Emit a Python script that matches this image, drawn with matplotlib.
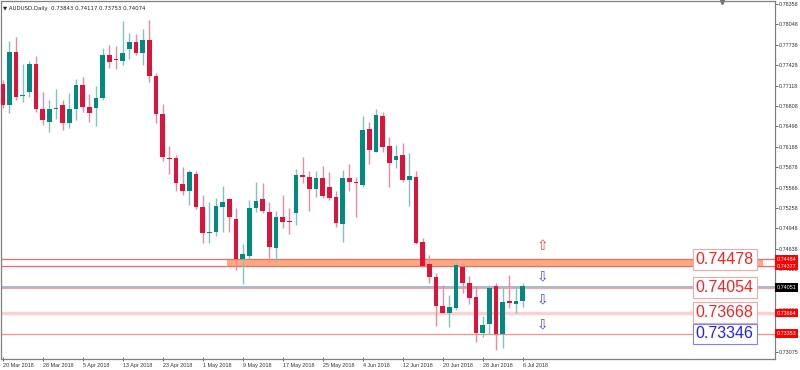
import matplotlib.pyplot as plt
import matplotlib.transforms as mtransforms
from matplotlib.patches import Rectangle

plt.rcParams['font.family'] = ['Liberation Sans', 'DejaVu Sans']

# AUDUSD daily bars, 20 Mar 2018 .. 6 Jul 2018
opens = [0.77143, 0.76824, 0.77629, 0.76958, 0.77021, 0.77447, 0.76763, 0.76566, 0.76759, 0.76824,
         0.76550, 0.76763, 0.77128, 0.76793, 0.76778, 0.76930, 0.77583, 0.77523, 0.77497, 0.77675,
         0.77777, 0.77609, 0.77816, 0.77264, 0.76683, 0.76023, 0.76013, 0.75619, 0.75518, 0.75771,
         0.75279, 0.74875, 0.74890, 0.75270, 0.75391, 0.75097, 0.74485, 0.74535, 0.75255, 0.75391,
         0.75203, 0.74656, 0.75123, 0.75062, 0.75188, 0.75756, 0.75726, 0.75548, 0.75720, 0.75574,
         0.75422, 0.75016, 0.75715, 0.75659, 0.75609, 0.76455, 0.76115, 0.76657, 0.76201, 0.75984,
         0.76064, 0.75685, 0.75730, 0.74738, 0.74409, 0.74207, 0.73771, 0.73669, 0.73736, 0.74359,
         0.74125, 0.73912, 0.73365, 0.73493, 0.74079, 0.73345, 0.73842, 0.73796, 0.73843]
highs = [0.77204, 0.77796, 0.77857, 0.77447, 0.77492, 0.77568, 0.77021, 0.76900, 0.77067, 0.76900,
         0.77006, 0.77219, 0.77249, 0.76991, 0.77112, 0.77690, 0.77735, 0.77720, 0.78100, 0.77918,
         0.77902, 0.77978, 0.78115, 0.77315, 0.76834, 0.76201, 0.76064, 0.75887, 0.75837, 0.75821,
         0.75457, 0.75346, 0.75407, 0.75594, 0.75415, 0.75255, 0.74712, 0.75381, 0.75650, 0.75634,
         0.75346, 0.75214, 0.75457, 0.75255, 0.75847, 0.76038, 0.75821, 0.75821, 0.75897, 0.75806,
         0.75518, 0.75837, 0.75928, 0.75726, 0.76657, 0.76561, 0.76763, 0.76718, 0.76342, 0.76216,
         0.76242, 0.76099, 0.75826, 0.74808, 0.74545, 0.74267, 0.74090, 0.73938, 0.74435, 0.74420,
         0.74231, 0.74074, 0.73619, 0.74090, 0.74115, 0.74040, 0.74242, 0.74079, 0.74117]
lows = [0.76778, 0.76702, 0.76900, 0.76869, 0.76945, 0.76718, 0.76520, 0.76414, 0.76611, 0.76444,
        0.76475, 0.76596, 0.76718, 0.76566, 0.76505, 0.76900, 0.77386, 0.77371, 0.77431, 0.77523,
        0.77583, 0.77431, 0.77178, 0.76546, 0.75978, 0.75771, 0.75518, 0.75457, 0.75305, 0.75240,
        0.74723, 0.74732, 0.74834, 0.74899, 0.74899, 0.74318, 0.74105, 0.74480, 0.75203, 0.75179,
        0.74444, 0.74444, 0.74951, 0.74860, 0.75001, 0.75644, 0.75218, 0.75422, 0.75415, 0.75381,
        0.74975, 0.74747, 0.75518, 0.75127, 0.75583, 0.75928, 0.76105, 0.76115, 0.75583, 0.75862,
        0.75659, 0.75290, 0.74712, 0.74368, 0.74125, 0.73467, 0.73660, 0.73447, 0.73710, 0.73963,
        0.73801, 0.73228, 0.73296, 0.73345, 0.73102, 0.73128, 0.73736, 0.73660, 0.73753]
closes = [0.76824, 0.77629, 0.76945, 0.76958, 0.77447, 0.76763, 0.76596, 0.76763, 0.76778, 0.76550,
          0.76763, 0.77128, 0.76793, 0.76702, 0.76930, 0.77583, 0.77477, 0.77500, 0.77621, 0.77781,
          0.77609, 0.77811, 0.77269, 0.76683, 0.76038, 0.76004, 0.75634, 0.75522, 0.75802, 0.75270,
          0.74875, 0.74890, 0.75290, 0.75346, 0.75118, 0.74485, 0.74556, 0.75264, 0.75366, 0.75214,
          0.74662, 0.75118, 0.75051, 0.75042, 0.75761, 0.75726, 0.75548, 0.75715, 0.75437, 0.75415,
          0.75027, 0.75710, 0.75654, 0.75639, 0.76444, 0.76140, 0.76672, 0.76190, 0.75938, 0.76054,
          0.75685, 0.75750, 0.74732, 0.74383, 0.74216, 0.73775, 0.73669, 0.73751, 0.74393, 0.74125,
          0.73897, 0.73365, 0.73482, 0.74049, 0.73345, 0.73836, 0.73812, 0.73847, 0.74074]

date_labels = ['20 Mar 2018', '28 Mar 2018', '5 Apr 2018', '13 Apr 2018', '23 Apr 2018',
               '1 May 2018', '9 May 2018', '17 May 2018', '25 May 2018', '4 Jun 2018',
               '12 Jun 2018', '20 Jun 2018', '28 Jun 2018', '6 Jul 2018']
date_step = 6

price_ticks = [0.78358, 0.78048, 0.77738, 0.77428, 0.77118, 0.76808, 0.76498, 0.76188, 0.75878,
               0.75566, 0.75258, 0.74948, 0.74638, 0.74328, 0.74018, 0.73708, 0.73398, 0.73075]

# levels drawn on the chart
zone_low, zone_high = 0.74377, 0.74484
zone_start_bar, zone_end_bar = 33.6, 114.0
level_texts = ['0.74478', '0.74054', '0.73668', '0.73346']
level_prices = [0.74478, 0.74054, 0.73668, 0.73346]
level_colors = ['#ff2020', '#ff2020', '#ff2020', '#2020ff']
axis_tags = ['0.74484', '0.74377', '0.74051', '0.73664', '0.73353']
axis_tag_prices = [0.74484, 0.74377, 0.74051, 0.73664, 0.73353]
axis_tag_colors = ['#ff0000', '#ff0000', '#000000', '#ff0000', '#ff0000']
arrow_prices = [0.74682, 0.74216, 0.73873, 0.73493]
arrow_glyphs = ['\u21e7', '\u21e9', '\u21e9', '\u21e9']
arrow_colors = ['#ff4040', '#4848ff', '#4848ff', '#4848ff']
arrow_bar = 81.0
label_bar = 108.3

fig = plt.figure(figsize=(8, 3.7), dpi=100)
ax = fig.add_axes([1 / 800, 11 / 370, 774 / 800, 358 / 370])

bull, bear = '#008a80', '#dc143c'
bull_w, bear_w = '#80c4bf', '#ef8aa0'
for i in range(len(opens)):
    o, h, l, c = opens[i], highs[i], lows[i], closes[i]
    up = c >= o
    ax.vlines(i, l, h, color=bull_w if up else bear_w, lw=1.0, zorder=2)
    body = max(abs(c - o), 0.00012)
    ax.bar(i, body, bottom=min(o, c), width=0.72,
           color=bull if up else bear, edgecolor='none', zorder=3)

# resistance zone and horizontal levels
ax.add_patch(Rectangle((zone_start_bar, zone_low), zone_end_bar - zone_start_bar,
                       zone_high - zone_low, facecolor='#ffa070', edgecolor='none',
                       alpha=0.9, zorder=1))
ax.axhline(zone_high, color='#f46a6a', lw=0.9, zorder=1.5)
ax.axhline(zone_low, color='#f46a6a', lw=0.9, zorder=1.5)
ax.axhline(0.74056, color='#a8b2c4', lw=1.3, zorder=1.5)
ax.axhline(0.74046, color='#f4a0a0', lw=0.7, zorder=1.5)
ax.axhline(0.73668, color='#ffd0d0', lw=2.4, zorder=1.5)
ax.axhline(0.73350, color='#f49090', lw=0.9, zorder=1.5)

for t, p, col in zip(level_texts, level_prices, level_colors):
    ax.text(label_bar, p, t, color=col, fontsize=11.5, ha='center', va='center', zorder=6,
            bbox=dict(boxstyle='square,pad=0.18', facecolor='white',
                      edgecolor='#f4a8a8' if col != '#2020ff' else '#8080ff', lw=0.8))

for g, p, col in zip(arrow_glyphs, arrow_prices, arrow_colors):
    ax.text(arrow_bar, p, g, color=col, fontsize=10, ha='center', va='center',
            family='DejaVu Sans', zorder=6)

ax.plot([107.9], [0.78385], marker='v', color='#707070', markersize=3, clip_on=False)

ax.set_xlim(-0.255, 115.84)
ax.set_ylim(0.729656, 0.784036)

ax.yaxis.tick_right()
ax.set_yticks(price_ticks)
ax.set_yticklabels([f'{v:.5f}' for v in price_ticks])
ax.tick_params(axis='y', labelsize=3.9, length=2, width=0.5, colors='#303030', pad=1)

xt = list(range(0, date_step * len(date_labels), date_step))
ax.set_xticks(xt)
ax.set_xticklabels(date_labels)
for lbl in ax.get_xticklabels():
    lbl.set_horizontalalignment('left')
ax.tick_params(axis='x', labelsize=3.9, length=3, width=0.5, direction='inout',
               colors='#303030', pad=1.5)

for s in ax.spines.values():
    s.set_color('#808080')
    s.set_linewidth(0.9)

# price tags on the right scale
tr = mtransforms.blended_transform_factory(ax.transAxes, ax.transData)
for t, p, col in zip(axis_tags, axis_tag_prices, axis_tag_colors):
    ax.text(1.002, p, t, transform=tr, color='white', fontsize=3.9, ha='left', va='center',
            zorder=7, clip_on=False,
            bbox=dict(boxstyle='square,pad=0.35', facecolor=col, edgecolor='none'))

ax.text(0.003, 0.985, '\u25bc AUDUSD,Daily  0.73843 0.74117 0.73753 0.74074',
        transform=ax.transAxes, fontsize=3.9, ha='left', va='top', color='#202020',
        family=['DejaVu Sans'], zorder=7)

fig.savefig('out.png', dpi=100, facecolor='white')
